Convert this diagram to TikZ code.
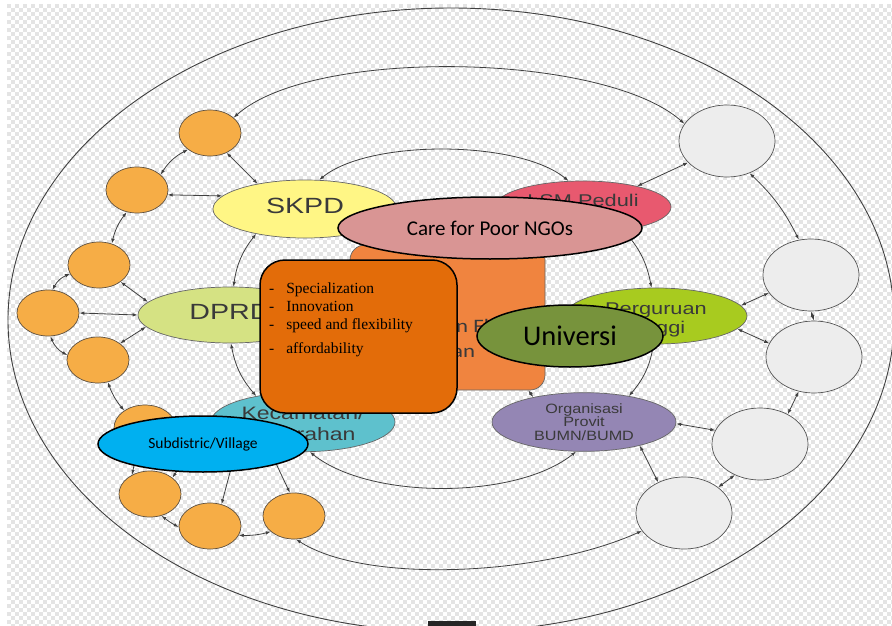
\documentclass[tikz,border=0pt]{standalone}
\usepackage{fontspec}
\setmainfont{Liberation Sans}
\newfontfamily\carl{Carlito}
\newfontfamily\tnr{Liberation Serif}
\usetikzlibrary{shapes.geometric,arrows.meta}
\definecolor{chkgray}{HTML}{E4E4E4}
\definecolor{lgray}{HTML}{404040}
\definecolor{ofill}{HTML}{F6AD46}
\definecolor{obord}{HTML}{5E5040}
\definecolor{wfill}{HTML}{EDEDED}
\definecolor{wbord}{HTML}{555555}
\definecolor{hbord}{HTML}{666666}
\definecolor{labelgray}{HTML}{3A3A3A}
\definecolor{skpdc}{HTML}{FFF685}
\definecolor{dprdc}{HTML}{D5E283}
\definecolor{kecc}{HTML}{5EC1CD}
\definecolor{lsmc}{HTML}{E8596F}
\definecolor{ptc}{HTML}{A8CB1F}
\definecolor{orgc}{HTML}{9486B4}
\definecolor{boxback}{HTML}{F0843F}
\definecolor{boxfront}{HTML}{E36C09}
\definecolor{carec}{HTML}{D99594}
\definecolor{univc}{HTML}{77933C}
\definecolor{subc}{HTML}{00B0F0}
\newcommand{\emb}[2][1.28]{\scalebox{#1}[1]{\begin{tabular}{@{}c@{}}#2\end{tabular}}}
\newcommand{\shiftv}[2]{\raisebox{#1}[\height][\depth]{#2}}
\newcount\chkn
\newcommand\chkrep[2]{\chkn=0 \loop\ifnum\chkn<#1 #2\advance\chkn by 1 \repeat}
\newsavebox\chka
\newsavebox\chkb
\newsavebox\chkall
\sbox\chka{\color{chkgray}\chkrep{112}{\rule{4pt}{4pt}\kern4pt}}
\sbox\chkb{\kern4pt\color{chkgray}\chkrep{111}{\rule{4pt}{4pt}\kern4pt}}
\sbox\chkall{\vbox{\offinterlineskip\chkrep{78}{\hbox{\usebox\chka}\hbox{\usebox\chkb}}}}
\begin{document}
\begin{tikzpicture}[x=1pt,y=-1pt,
  orangec/.style={ellipse, draw=obord, fill=ofill, line width=0.7pt, minimum width=62pt, minimum height=46pt, inner sep=0},
  whitec/.style={ellipse, draw=wbord, fill=wfill, line width=0.7pt, minimum width=96pt, minimum height=72pt, inner sep=0},
  hub/.style={ellipse, draw=hbord, line width=0.7pt, inner sep=0, text=labelgray},
  over/.style={draw=black, line width=1.5pt, inner sep=0},
  dbl/.style={draw=lgray, line width=0.8pt, {Latex[length=5pt,width=3.5pt]}-{Latex[length=5pt,width=3.5pt]}},
  sgl/.style={draw=lgray, line width=0.8pt, -{Latex[length=5pt,width=3.5pt]}},
  ring/.style={draw=lgray, line width=0.9pt}]
\useasboundingbox (0,0) rectangle (892,626);
\fill[white] (0,0) rectangle (892,626);
\begin{scope}
  \clip (0,0) rectangle (892,626);
  \node[anchor=north west, inner sep=0] (BG) at (7,4) {\usebox\chkall};
  \draw[ring] (451,320) ellipse [x radius=443pt, y radius=312pt];
\end{scope}
\fill[black!85] (428,621) rectangle (476,626);

% orange circles
\node[orangec] (O1) at (210,133) {};
\node[orangec] (O2) at (137,190) {};
\node[orangec] (O3) at (99,265) {};
\node[orangec] (O4) at (48,313) {};
\node[orangec] (O5) at (98,360) {};
\node[orangec] (O6) at (145,428) {};
\node[orangec] (O7) at (150,494) {};
\node[orangec] (O8) at (210,526) {};
\node[orangec] (O9) at (294,516) {};
% white circles
\node[whitec] (W1) at (727,141) {};
\node[whitec] (W2) at (811,275) {};
\node[whitec] (W3) at (814,357) {};
\node[whitec] (W4) at (760,444) {};
\node[whitec] (W5) at (684,513) {};
% hubs
\node[hub, fill=skpdc, minimum width=184pt, minimum height=58pt, font=\fontsize{22}{24}\selectfont] (SKPD) at (305,209) {\emb[1.3]{SKPD}};
\node[hub, fill=dprdc, minimum width=184pt, minimum height=56pt, font=\fontsize{22}{24}\selectfont] (DPRD) at (230,315) {\emb[1.3]{DPRD}};
\node[hub, fill=kecc, minimum width=184pt, minimum height=52pt, font=\fontsize{18}{21}\selectfont] (KEC) at (303,422) {\shiftv{-4pt}{\emb{Kecamatan/\\Kelurahan}}};
\node[hub, fill=lsmc, minimum width=176pt, minimum height=52pt, font=\fontsize{17}{20}\selectfont] (LSM) at (583,207) {\shiftv{5pt}{\emb{LSM Peduli}}};
\node[hub, fill=ptc, minimum width=182pt, minimum height=56pt, font=\fontsize{17}{19.5}\selectfont] (PT) at (656,316) {\shiftv{-4pt}{\emb{Perguruan\\Tinggi}}};
\node[hub, fill=orgc, minimum width=184pt, minimum height=58pt, font=\fontsize{13.5}{13.5}\selectfont] (ORG) at (584,422) {\shiftv{-2pt}{\emb[1.2]{Organisasi\\Provit\\BUMN/BUMD}}};
% back centre box
\node[draw=hbord, fill=boxback, line width=0.7pt, rounded corners=15pt, minimum width=195pt, minimum height=145pt, inner sep=0] (BOX) at (447.5,317.5) {};
\node[anchor=base west, inner sep=0, text=labelgray, font=\carl\fontsize{19}{22}\selectfont] (BOXT1) at (456,332) {\scalebox{1.2}[1]{n Fl}};
\node[anchor=base west, inner sep=0, text=labelgray, font=\carl\fontsize{19}{22}\selectfont] (BOXT2) at (452,357) {\scalebox{1.2}[1]{an}};

% outer ring of node connectors
\draw[dbl] (O1.33) .. controls +(80,-71) and +(-80,-71) .. (W1.158);
\draw[dbl] (O9.-85) .. controls +(70,45) and +(-100,45) .. (W5.203);
\draw[dbl] (O1.217) to[bend right=15] (O2.33);
\draw[dbl] (O2.245) to[bend right=12] (O3.59);
\draw[dbl] (O3.197) to[bend right=20] (O4.79);
\draw[dbl] (O4.276) to[bend right=20] (O5.171);
\draw[dbl] (O5.294) to[bend right=10] (O6.140);
\draw[dbl] (O6.260) to[bend right=10] (O7.133);
\draw[dbl] (O7.298) to[bend right=5] (O8.182);
\draw[dbl] (O8.342) to[bend right=8] (O9.214);
% spokes left
\draw[dbl] (O1.310) -- (SKPD.152);
\draw[dbl] (O2.351) -- (SKPD.171);
\draw[dbl] (O3.322) -- (DPRD.171);
\draw[dbl] (O4.0) -- (DPRD.180);
\draw[dbl] (O5.37) -- (DPRD.188);
\draw[sgl] (KEC.180) -- (O7.36);
\draw[sgl] (KEC.198) -- (O8.62);
\draw[sgl] (KEC.220) -- (O9.100);
% inner ring
\draw[dbl] (SKPD.207) to[bend right=15] (DPRD.83);
\draw[dbl] (DPRD.272) to[bend right=15] (KEC.151);
\draw[dbl] (SKPD.64) .. controls +(50,-41) and +(-50,-41) .. (LSM.119);
\draw[dbl] (LSM.330) to[bend left=15] (PT.99);
\draw[dbl] (PT.265) to[bend left=15] (ORG.30);
\draw[dbl] (ORG.255) .. controls +(-60,48) and +(60,48) .. (KEC.283);
\draw[dbl] (BOX.-42) -- (ORG.154);
% spokes right
\draw[dbl] (W1.209) -- (LSM.21);
\draw[dbl] (W1.305) to[bend left=10] (W2.109);
\draw[dbl] (W2.203) -- (PT.7);
\draw[dbl] (W2.south) -- (W3.north);
\draw[dbl] (PT.351) -- (W3.163);
\draw[dbl] (W3.246) -- (W4.47);
\draw[dbl] (ORG.359) -- (W4.163);
\draw[dbl] (W4.231) -- (W5.37);
\draw[dbl] (ORG.337) -- (W5.130);

% overlays
\node[over, fill=boxfront, rounded corners=25pt, minimum width=197pt, minimum height=153pt] (FRONT) at (358.5,336.5) {};
\node[anchor=north west, inner sep=0, font=\tnr\fontsize{15.5}{18}\selectfont] (LIST) at (269,280.5) {%
  \begin{tabular}{@{}l@{\hspace{12pt}}l@{}}
  -&Specialization\\
  -&Innovation\\
  -&speed and flexibility\\[6pt]
  -&affordability
  \end{tabular}};
\node[over, ellipse, fill=carec, minimum width=304pt, minimum height=62pt, font=\carl\fontsize{21}{24}\selectfont] (CARE) at (490,228) {Care for Poor NGOs};
\node[over, ellipse, fill=univc, minimum width=186pt, minimum height=62pt, font=\carl\fontsize{28.5}{32}\selectfont] (UNIV) at (570,336) {Universi};
\node[over, ellipse, fill=subc, minimum width=210pt, minimum height=56pt, font=\carl\fontsize{15.5}{18}\selectfont] (SUB) at (203,444) {Subdistric/Village};
\end{tikzpicture}
\end{document}
